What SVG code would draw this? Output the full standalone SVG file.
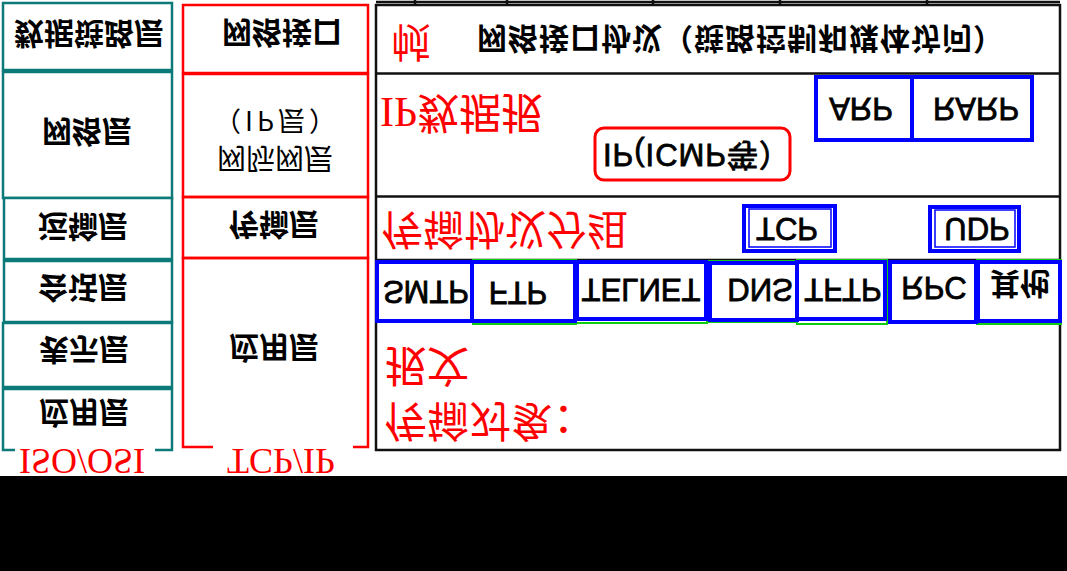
<svg xmlns="http://www.w3.org/2000/svg" width="1067" height="571" viewBox="0 0 1067 571">
<style>
.osi{fill:#fff;stroke:#0b7a78;stroke-width:2.5}
.tcp{fill:none;stroke:#f00;stroke-width:2.5}
.ln{fill:none;stroke:#111;stroke-width:2.5}
.bx{fill:none;stroke:#00f;stroke-width:4}
.bt{fill:none;stroke:#00f;stroke-width:1.5}
.gr{fill:none;stroke:#1c1;stroke-width:2}
.t{font-family:"Noto Sans CJK SC","Noto Sans",sans-serif;font-weight:bold;font-size:30px;fill:#000;text-anchor:middle;dominant-baseline:central}
.tn{font-family:"Noto Sans CJK SC","Noto Sans",sans-serif;font-weight:normal;fill:#000;text-anchor:middle;dominant-baseline:central}
.e{font-family:"Liberation Sans",Arial,"Noto Sans CJK SC",sans-serif;font-weight:normal;font-size:31px;fill:#000;stroke:#000;stroke-width:0.8;text-anchor:middle;dominant-baseline:central}
.r{font-family:"Liberation Serif","Noto Sans CJK SC",serif;fill:#f00;dominant-baseline:central}
</style>
<rect x="0" y="0" width="1067" height="571" fill="#fff"/>
<rect x="0" y="476" width="1067" height="95" fill="#000"/>
<g id="top-remnant">
<line x1="376" y1="2" x2="1060" y2="2" class="ln"/>
<path d="M415 0V4M507 0V4M653 0V4M780 0V4M927 0V4" class="ln"/>
</g>
<g id="osi">
<g id="osi-datalink"><rect class="osi" x="3" y="3" width="169" height="67"/><text class="t" transform="matrix(1,0,0,-1,89,36)">数据链路层</text></g>
<g id="osi-network"><rect class="osi" x="3" y="72" width="169" height="126"/><text class="t" transform="matrix(1,0,0,-1,87,134)">网络层</text></g>
<g id="osi-transport"><rect class="osi" x="4" y="198" width="168" height="61"/><text class="t" transform="matrix(1,0,0,-1,83,229)">运输层</text></g>
<g id="osi-session"><rect class="osi" x="4" y="261" width="168" height="61"/><text class="t" transform="matrix(1,0,0,-1,83,290)">会话层</text></g>
<g id="osi-presentation"><rect class="osi" x="3" y="323" width="169" height="64"/><text class="t" transform="matrix(1,0,0,-1,84,352)">表示层</text></g>
<g id="osi-application"><path class="osi" fill="none" d="M15 450H3V389H172V450H155"/><text class="t" transform="matrix(1,0,0,-1,84,415)">应用层</text></g>
<text class="r" font-size="36" text-anchor="middle" transform="matrix(1,0,0,-1,82,461)">ISO/OSI</text>
</g>
<g id="tcpip">
<g id="tcp-netif"><rect class="tcp" x="183" y="5" width="185" height="68"/><text class="t" transform="matrix(1,0,0,-1,282,35)">网络接口</text></g>
<g id="tcp-ip"><rect class="tcp" x="183" y="74" width="185" height="123"/><text class="tn" font-size="27" style="letter-spacing:4px" transform="matrix(1,0,0,-1,277,122)">（IP层）</text><text class="tn" font-size="29" transform="matrix(1,0,0,-1,275,161)">网际网层</text></g>
<g id="tcp-transport"><rect class="tcp" x="183" y="197" width="185" height="61"/><text class="t" transform="matrix(1,0,0,-1,274,227)">传输层</text></g>
<g id="tcp-application"><path class="tcp" d="M213 447H183V258H368V447H353"/><text class="t" transform="matrix(1,0,0,-1,274,350)">应用层</text></g>
<text class="r" font-size="36" text-anchor="middle" transform="matrix(1,0,0,-1,281,461)">TCP/IP</text>
</g>
<g id="right">
<rect class="ln" x="376" y="5" width="684" height="445" fill="#fff"/>
<line class="ln" x1="376" y1="73.5" x2="1060" y2="73.5"/>
<line class="ln" x1="376" y1="196.5" x2="1060" y2="196.5"/>
<line class="ln" x1="376" y1="260" x2="1060" y2="260"/>
<g id="row-netif">
<text class="r" font-size="40" text-anchor="middle" transform="matrix(1,0,0,-1,411,41)">帧</text>
<text class="t" style="text-anchor:start;letter-spacing:1px" transform="matrix(1,0,0,-1,477,41)">网络接口协议（链路控制和媒体访问）</text>
</g>
<g id="row-ip">
<text class="r" font-size="42" transform="matrix(1,0,0,-1,380,112)">IP数据报</text>
<g id="icmp"><rect x="595" y="128" width="195" height="52" rx="9" fill="none" stroke="#f00" stroke-width="3"/><text class="e" style="letter-spacing:1px" transform="matrix(1,0,0,-1,697,154)">IP(ICMP等）</text></g>
<g id="arp"><rect class="bx" x="816" y="77" width="96" height="63"/><text class="e" transform="matrix(1,0,0,-1,861,108)">ARP</text></g>
<g id="rarp"><rect class="bx" x="912" y="77" width="120" height="63"/><text class="e" transform="matrix(1,0,0,-1,976,108)">RARP</text></g>
</g>
<g id="row-transport">
<text class="r" font-size="41" transform="matrix(1,0,0,-1,382,229)">传输协议分组</text>
<g id="tcpbox"><rect class="bx" x="744" y="206" width="91" height="45"/><rect class="bt" x="749" y="209" width="82" height="38"/><text class="e" transform="matrix(1,0,0,-1,787,228)">TCP</text></g>
<g id="udpbox"><rect class="bx" x="930" y="207" width="89" height="44"/><rect class="bt" x="935" y="210" width="80" height="37"/><text class="e" transform="matrix(1,0,0,-1,977,228)">UDP</text></g>
</g>
<g id="row-app">
<rect class="gr" x="473" y="260" width="103" height="64"/>
<rect class="gr" x="576" y="261" width="131" height="62"/>
<rect class="gr" x="708" y="261" width="88" height="61"/>
<rect class="gr" x="797" y="260" width="90" height="64"/>
<rect class="gr" x="977" y="260" width="84" height="64"/>
<g id="smtp"><rect class="bx" x="377" y="262" width="95" height="59"/><text class="e" transform="matrix(1,0,0,-1,426,291)">SMTP</text></g>
<g id="ftp"><rect class="bx" x="472" y="262" width="103" height="59"/><text class="e" transform="matrix(1,0,0,-1,518,292)">FTP</text></g>
<g id="telnet"><rect class="bx" x="577" y="262" width="129" height="57"/><text class="e" transform="matrix(1,0,0,-1,641,289)">TELNET</text></g>
<g id="dns"><rect class="bx" x="710" y="263" width="87" height="57"/><text class="e" transform="matrix(1,0,0,-1,760,289)">DNS</text></g>
<g id="tftp"><rect class="bx" x="797" y="262" width="88" height="57"/><text class="e" transform="matrix(1,0,0,-1,843,289)">TFTP</text></g>
<g id="rpc"><rect class="bx" x="890" y="262" width="86" height="60"/><text class="e" transform="matrix(1,0,0,-1,934,287)">RPC</text></g>
<g id="other"><rect class="bx" x="978" y="262" width="82" height="59"/><text class="t" transform="matrix(1,0,0,-1,1020,286)">其他</text></g>
</g>
<g id="row-msg">
<text class="r" font-size="42" transform="matrix(1,0,0,-1,385,365)">报文</text>
<text class="r" font-size="42" transform="matrix(1,0,0,-1,385,420)">传输对象：</text>
</g>
</g>
</svg>
